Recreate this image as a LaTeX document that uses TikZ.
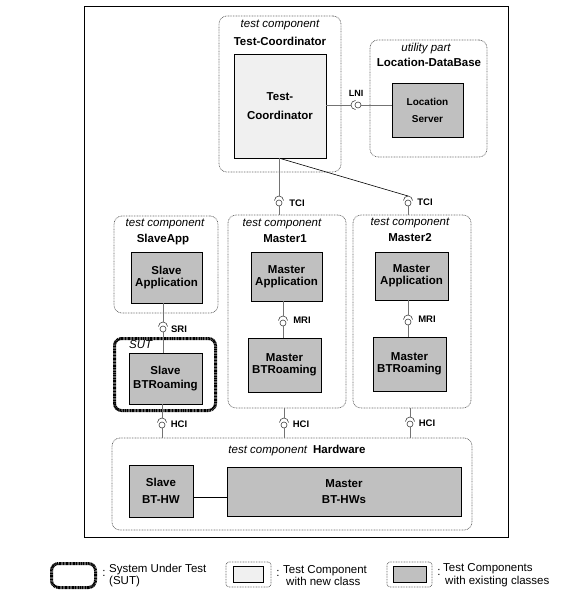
\documentclass[tikz,border=0pt]{standalone}
\usepackage{fontspec}
\setmainfont{Liberation Sans}
\usetikzlibrary{calc}
\definecolor{newgray}{HTML}{F0F0F0}
\definecolor{exgray}{HTML}{C0C0C0}
\newcommand\vsock[1]{\draw[sock] ($(#1)+(-4.5,-2.5)$) arc[start angle=180,end angle=0,radius=4.5pt]; \coordinate (#1-s) at ($(#1)+(0,-7)$);}
\begin{document}
\begin{tikzpicture}[x=1pt,y=-1pt,
 cont/.style={draw=black!60, line width=0.7pt, dash pattern=on 0.8pt off 0.8pt, rounded corners=8pt, inner sep=0pt},
 exbox/.style={draw=black, line width=0.8pt, fill=exgray, inner sep=0pt, align=center, font=\bfseries\fontsize{11.5}{11.7}\selectfont},
 newbox/.style={exbox, fill=newgray},
 ctitle/.style={font=\itshape\fontsize{11.5}{13}\selectfont, inner sep=0pt},
 cname/.style={font=\bfseries\fontsize{11.5}{13}\selectfont, inner sep=0pt},
 ball/.style={circle, draw=black!75, line width=0.6pt, fill=white, minimum size=6pt, inner sep=0pt},
 sock/.style={draw=black!75, line width=0.6pt},
 conn/.style={draw=black!55, line width=0.9pt},
 ilabel/.style={font=\bfseries\fontsize{9.5}{11}\selectfont, inner sep=0pt},
 sutline/.style={draw=black, line width=3pt, dash pattern=on 1pt off 0.45pt, rounded corners=7pt, inner sep=0pt},
 legtext/.style={font=\fontsize{11.5}{12.7}\selectfont, inner sep=0pt, align=left, anchor=west},
]
\useasboundingbox[fill=white] (0,0) rectangle (586,602);

% outer frame
\node[draw, line width=0.9pt, minimum width=424pt, minimum height=531pt, inner sep=0pt] (frame) at (296,271.5) {};

% containers
\node[cont, minimum width=122pt, minimum height=156pt] (tcC) at (280,94) {};
\node[cont, minimum width=117pt, minimum height=117pt] (ldbC) at (428.5,98.5) {};
\node[cont, minimum width=104pt, minimum height=97pt] (saC) at (166,264.5) {};
\node[cont, minimum width=118pt, minimum height=193pt] (m1C) at (287,311.5) {};
\node[cont, minimum width=118pt, minimum height=193pt] (m2C) at (412,311.5) {};
\node[cont, minimum width=360pt, minimum height=92pt] (hwC) at (292,484) {};
\node[sutline, minimum width=101pt, minimum height=72pt] (sut) at (165,374.5) {};

% container titles
\node[ctitle] (tcT) at (280,25) {test component};
\node[cname] (tcN) at (280,41) {Test-Coordinator};
\node[ctitle] (ldbT) at (426,49) {utility part};
\node[cname] (ldbN) at (429,62) {Location-DataBase};
\node[ctitle] (saT) at (165,224) {test component};
\node[cname] (saN) at (163,240) {SlaveApp};
\node[ctitle] (m1T) at (282,224) {test component};
\node[cname] (m1N) at (285,239) {Master1};
\node[ctitle] (m2T) at (410,223) {test component};
\node[cname] (m2N) at (410,238) {Master2};
\node[ctitle, anchor=west] (sutT) at (129,344.5) {SUT};
\node[inner sep=0pt, font=\fontsize{11.5}{13}\selectfont] (hwT) at (297,451) {{\itshape test component}\hspace{6pt}{\bfseries Hardware}};

% boxes
\node[newbox, minimum width=92pt, minimum height=104pt] (tcB) at (280,106) {Test-\\[8pt]Coordinator};
\node[exbox, minimum width=71pt, minimum height=54pt, font=\bfseries\fontsize{10}{17}\selectfont] (lsB) at (427.5,110) {Location\\Server};
\node[exbox, minimum width=71pt, minimum height=51pt] (saB) at (166.5,277.5) {Slave\\Application};
\node[exbox, minimum width=73pt, minimum height=51pt] (sbB) at (165.5,378.5) {Slave\\[3pt]BTRoaming};
\node[exbox, minimum width=71pt, minimum height=49pt] (m1aB) at (286.5,276.5) {Master\\Application};
\node[exbox, minimum width=73pt, minimum height=54pt] (m1bB) at (284.5,365) {Master\\BTRoaming};
\node[exbox, minimum width=73pt, minimum height=48pt] (m2aB) at (411.5,276) {Master\\Application};
\node[exbox, minimum width=73pt, minimum height=54pt] (m2bB) at (409.5,364) {Master\\BTRoaming};
\node[exbox, minimum width=64pt, minimum height=52pt] (shwB) at (161,491) {Slave\\[5pt]BT-HW};
\node[exbox, minimum width=234pt, minimum height=49pt] (mhwB) at (344,491.5) {Master\\[5pt]BT-HWs};

% interfaces (balls)
\node[ball] (lni) at (358,105) {};
\node[ball] (tciA) at (279,203) {};
\node[ball] (tciB) at (408,203) {};
\node[ball] (sri) at (163,329) {};
\node[ball] (mriA) at (283,323) {};
\node[ball] (mriB) at (408,322) {};
\node[ball] (hciA) at (162,425) {};
\node[ball] (hciB) at (284,425) {};
\node[ball] (hciC) at (410,424) {};

% sockets
\draw[sock] ($(lni)+(-2.5,-4.5)$) arc[start angle=90,end angle=270,radius=4.5pt];
\coordinate (lni-s) at ($(lni)+(-7,0)$);
\vsock{tciA}\vsock{tciB}\vsock{sri}\vsock{mriA}\vsock{mriB}\vsock{hciA}\vsock{hciB}\vsock{hciC}

% interface labels
\node[ilabel, font=\bfseries\fontsize{9}{11}\selectfont] (lniL) at (356,93) {LNI};
\node[ilabel] (tciAL) at (297,203) {TCI};
\node[ilabel] (tciBL) at (425,202) {TCI};
\node[ilabel] (sriL) at (179,329) {SRI};
\node[ilabel] (mriAL) at (302,320) {MRI};
\node[ilabel] (mriBL) at (427,319) {MRI};
\node[ilabel] (hciAL) at (179,424) {HCI};
\node[ilabel] (hciBL) at (301,424) {HCI};
\node[ilabel] (hciCL) at (427,423) {HCI};

% connectors
\draw[conn] (tcB.east |- lni) -- (lni-s);
\draw[conn] (lni) -- (lsB.west |- lni);
\draw[conn] (tciA |- tcB.south) -- (tciA-s);
\draw[conn] (tciA) -- (tciA |- m1C.north);
\draw[draw=black, line width=0.6pt] (tcB.south) -- (tciB-s);
\draw[conn] (tciB) -- (tciB |- m2C.north);
\draw[conn] (sri |- saB.south) -- (sri-s);
\draw[conn] (sri) -- (sri |- sbB.north);
\draw[conn] (mriA |- m1aB.south) -- (mriA-s);
\draw[conn] (mriA) -- (mriA |- m1bB.north);
\draw[conn] (mriB |- m2aB.south) -- (mriB-s);
\draw[conn] (mriB) -- (mriB |- m2bB.north);
\draw[conn] (hciA |- sbB.south) -- (hciA-s);
\draw[conn] (hciA) -- (hciA |- hwC.north);
\draw[conn] (hciB |- m1C.south) -- (hciB-s);
\draw[conn] (hciB) -- (hciB |- hwC.north);
\draw[conn] (hciC |- m2C.south) -- (hciC-s);
\draw[conn] (hciC) -- (hciC |- hwC.north);
\draw[draw=black, line width=0.8pt] (shwB.east |- 0,497) -- (mhwB.west |- 0,497);

% legend
\node[sutline, minimum width=44pt, minimum height=24pt] (legSut) at (73.5,575.5) {};
\node[inner sep=0pt, font=\fontsize{11.5}{13}\selectfont] (legSutC) at (104,573) {:};
\node[legtext] (legSutT) at (109,575.5) {System Under Test\\(SUT)};

\node[cont, minimum width=45pt, minimum height=25pt, rounded corners=3pt] (legNewO) at (248.5,574.5) {};
\node[draw=black, line width=0.8pt, fill=newgray, minimum width=30pt, minimum height=16pt, inner sep=0pt] (legNewI) at (248,574) {};
\node[inner sep=0pt, font=\fontsize{11.5}{13}\selectfont] (legNewC) at (278,573) {:};
\node[legtext] (legNewT) at (283,575.5) {Test Component\\\hspace{3pt}with new class};

\node[cont, minimum width=45pt, minimum height=25pt, rounded corners=3pt] (legExO) at (409.5,574.5) {};
\node[draw=black, line width=0.8pt, fill=exgray, minimum width=33pt, minimum height=16pt, inner sep=0pt] (legExI) at (409.5,574) {};
\node[inner sep=0pt, font=\fontsize{11.5}{13}\selectfont] (legExC) at (439,572) {:};
\node[legtext] (legExT) at (443,575.5) {Test Components\\\hspace{2pt}with existing classes};
\end{tikzpicture}
\end{document}
